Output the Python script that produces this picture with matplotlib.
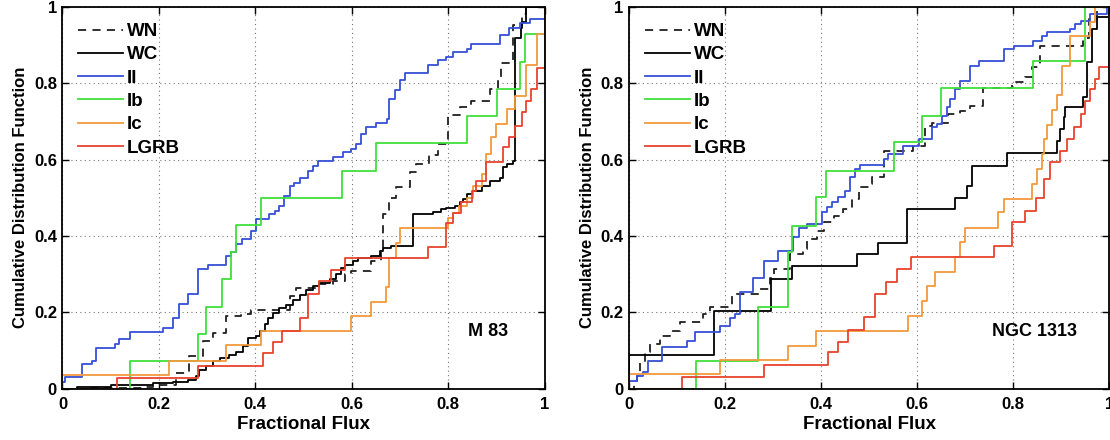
import numpy as np
import matplotlib
matplotlib.use("Agg")
import matplotlib.pyplot as plt

plt.rcParams['font.family'] = ['Liberation Sans', 'DejaVu Sans']
plt.rcParams['font.weight'] = 'bold'

labels = ["WN", "WC", "II", "Ib", "Ic", "LGRB"]
colors = ["#202020", "#000000", "#3550d8", "#3ee03a", "#f29a3a", "#e8432e"]
tick_values = [0, 0.2, 0.4, 0.6, 0.8, 1]
tick_labels = ["0", "0.2", "0.4", "0.6", "0.8", "1"]
panel_names = ["M 83", "NGC 1313"]
name_positions = [(0.883, 0.15), (0.844, 0.15)]

# ---- M 83: step positions (fractional flux) and cumulative levels ----
m83_wn_x = [0.060, 0.167, 0.187, 0.236, 0.263, 0.291, 0.312, 0.340, 0.371, 0.391, 0.471, 0.485,
            0.533, 0.561, 0.585, 0.599, 0.640, 0.661, 0.665, 0.678, 0.692, 0.720, 0.734, 0.761,
            0.779, 0.799, 0.824, 0.848, 0.886, 0.903, 0.910, 0.934, 0.952, 0.962]
m83_wn_y = [0.002, 0.004, 0.008, 0.040, 0.084, 0.124, 0.146, 0.189, 0.196, 0.207, 0.242, 0.264,
            0.273, 0.282, 0.299, 0.308, 0.334, 0.369, 0.457, 0.500, 0.527, 0.567, 0.589, 0.611,
            0.641, 0.716, 0.738, 0.755, 0.786, 0.808, 0.852, 0.953, 0.983, 1.000]

m83_wc_x = [0.030, 0.100, 0.187, 0.229, 0.260, 0.277, 0.284, 0.298, 0.312, 0.326, 0.346, 0.360,
            0.374, 0.384, 0.402, 0.409, 0.419, 0.426, 0.436, 0.450, 0.464, 0.478, 0.492, 0.506,
            0.519, 0.533, 0.554, 0.568, 0.578, 0.585, 0.602, 0.613, 0.640, 0.658, 0.665, 0.682,
            0.727, 0.768, 0.786, 0.796, 0.813, 0.824, 0.830, 0.838, 0.851, 0.869, 0.886, 0.907,
            0.914, 0.921, 0.934, 0.938, 0.950, 0.954, 0.962]
m83_wc_y = [0.004, 0.009, 0.014, 0.018, 0.023, 0.032, 0.049, 0.058, 0.071, 0.080, 0.089, 0.097,
            0.111, 0.132, 0.137, 0.150, 0.168, 0.185, 0.198, 0.211, 0.220, 0.233, 0.246, 0.258,
            0.268, 0.277, 0.286, 0.299, 0.315, 0.324, 0.334, 0.341, 0.347, 0.361, 0.369, 0.374,
            0.457, 0.464, 0.470, 0.474, 0.479, 0.488, 0.497, 0.510, 0.518, 0.532, 0.545, 0.553,
            0.580, 0.589, 0.597, 0.918, 0.944, 0.960, 1.000]

m83_ii_x = [0.000, 0.006, 0.041, 0.062, 0.070, 0.108, 0.118, 0.141, 0.208, 0.229, 0.241, 0.261,
            0.281, 0.301, 0.340, 0.350, 0.360, 0.372, 0.390, 0.402, 0.429, 0.440, 0.450, 0.460,
            0.471, 0.481, 0.492, 0.509, 0.519, 0.530, 0.561, 0.582, 0.599, 0.609, 0.620, 0.630,
            0.651, 0.672, 0.678, 0.689, 0.699, 0.710, 0.758, 0.779, 0.796, 0.810, 0.838, 0.848,
            0.907, 0.927, 0.948, 0.969, 1.000]
m83_ii_y = [0.018, 0.029, 0.063, 0.071, 0.106, 0.116, 0.129, 0.148, 0.159, 0.185, 0.221, 0.247,
            0.313, 0.324, 0.347, 0.359, 0.378, 0.391, 0.413, 0.444, 0.457, 0.466, 0.479, 0.505,
            0.530, 0.540, 0.553, 0.571, 0.584, 0.597, 0.606, 0.619, 0.628, 0.641, 0.668, 0.685,
            0.696, 0.707, 0.760, 0.782, 0.808, 0.826, 0.847, 0.861, 0.869, 0.882, 0.891, 0.904,
            0.926, 0.944, 0.957, 0.968, 1.000]

m83_ib_x = [0.140, 0.281, 0.298, 0.331, 0.350, 0.360, 0.411, 0.580, 0.651, 0.838, 0.901, 0.948,
            0.959, 1.000]
m83_ib_y = [0.071, 0.143, 0.214, 0.286, 0.357, 0.429, 0.500, 0.571, 0.643, 0.714, 0.786, 0.857,
            0.929, 1.000]

m83_ic_x = [0.000, 0.221, 0.340, 0.411, 0.599, 0.639, 0.670, 0.678, 0.691, 0.699, 0.799, 0.810,
            0.823, 0.838, 0.852, 0.869, 0.879, 0.889, 0.900, 0.921, 0.938, 0.962, 0.985, 1.000]
m83_ic_y = [0.036, 0.071, 0.113, 0.150, 0.189, 0.227, 0.266, 0.341, 0.382, 0.420, 0.448, 0.461,
            0.478, 0.500, 0.532, 0.562, 0.615, 0.659, 0.694, 0.733, 0.768, 0.847, 0.930, 1.000]

m83_lgrb_x = [0.113, 0.281, 0.416, 0.436, 0.456, 0.492, 0.509, 0.533, 0.557, 0.585, 0.758, 0.795,
              0.810, 0.827, 0.850, 0.858, 0.879, 0.914, 0.927, 0.938, 0.952, 0.962, 0.972, 0.985,
              1.000]
m83_lgrb_y = [0.027, 0.060, 0.093, 0.121, 0.152, 0.185, 0.247, 0.282, 0.310, 0.341, 0.371, 0.435,
              0.461, 0.488, 0.518, 0.545, 0.593, 0.632, 0.659, 0.689, 0.724, 0.755, 0.786, 0.840,
              1.000]

# ---- NGC 1313 ----
n1313_wn_x = [0.010, 0.016, 0.023, 0.033, 0.044, 0.065, 0.085, 0.106, 0.155, 0.169, 0.214, 0.273,
              0.294, 0.301, 0.335, 0.363, 0.370, 0.391, 0.405, 0.426, 0.446, 0.464, 0.478, 0.499,
              0.506, 0.530, 0.592, 0.617, 0.630, 0.665, 0.690, 0.710, 0.738, 0.797, 0.825, 0.839,
              0.856, 0.946, 0.957, 0.975]
n1313_wn_y = [0.020, 0.034, 0.069, 0.095, 0.117, 0.138, 0.152, 0.174, 0.195, 0.214, 0.248, 0.261,
              0.291, 0.313, 0.353, 0.366, 0.392, 0.414, 0.436, 0.451, 0.470, 0.497, 0.527, 0.536,
              0.555, 0.623, 0.635, 0.689, 0.697, 0.720, 0.728, 0.741, 0.787, 0.803, 0.816, 0.842,
              0.899, 0.920, 0.968, 1.000]

n1313_wc_x = [0.000, 0.176, 0.295, 0.339, 0.474, 0.519, 0.578, 0.679, 0.703, 0.714, 0.787, 0.891,
              0.898, 0.905, 0.908, 0.946, 0.954, 0.964, 0.974, 1.000]
n1313_wc_y = [0.089, 0.204, 0.287, 0.322, 0.353, 0.381, 0.470, 0.499, 0.532, 0.584, 0.617, 0.650,
              0.680, 0.711, 0.737, 0.763, 0.855, 0.942, 0.973, 1.000]

n1313_ii_x = [0.000, 0.016, 0.030, 0.040, 0.068, 0.120, 0.138, 0.190, 0.210, 0.221, 0.231, 0.259,
              0.280, 0.311, 0.342, 0.353, 0.370, 0.401, 0.412, 0.422, 0.436, 0.450, 0.460, 0.471,
              0.481, 0.530, 0.540, 0.571, 0.603, 0.631, 0.641, 0.651, 0.662, 0.669, 0.679, 0.690,
              0.710, 0.728, 0.780, 0.801, 0.842, 0.860, 0.870, 0.919, 0.929, 0.940, 0.960, 0.995]
n1313_ii_y = [0.021, 0.034, 0.044, 0.073, 0.108, 0.125, 0.147, 0.165, 0.184, 0.195, 0.252, 0.291,
              0.335, 0.361, 0.396, 0.420, 0.431, 0.462, 0.475, 0.488, 0.501, 0.519, 0.554, 0.575,
              0.587, 0.602, 0.615, 0.637, 0.654, 0.685, 0.693, 0.715, 0.737, 0.759, 0.785, 0.807,
              0.846, 0.859, 0.890, 0.899, 0.912, 0.925, 0.934, 0.942, 0.955, 0.964, 0.982, 1.000]

n1313_ib_x = [0.139, 0.269, 0.330, 0.339, 0.390, 0.410, 0.551, 0.610, 0.650, 0.841, 0.950]
n1313_ib_y = [0.073, 0.215, 0.357, 0.427, 0.501, 0.571, 0.645, 0.715, 0.787, 0.858, 1.000]

n1313_ic_x = [0.000, 0.190, 0.330, 0.390, 0.581, 0.610, 0.620, 0.638, 0.679, 0.690, 0.700, 0.769,
              0.780, 0.839, 0.849, 0.860, 0.865, 0.870, 0.881, 0.891, 0.901, 0.919, 0.960, 0.971]
n1313_ic_y = [0.038, 0.075, 0.112, 0.152, 0.191, 0.230, 0.268, 0.306, 0.344, 0.383, 0.422, 0.462,
              0.498, 0.537, 0.575, 0.615, 0.654, 0.692, 0.731, 0.769, 0.846, 0.923, 0.962, 1.000]

n1313_lgrb_x = [0.111, 0.280, 0.415, 0.436, 0.456, 0.490, 0.513, 0.535, 0.558, 0.587, 0.759, 0.797,
                0.825, 0.848, 0.863, 0.877, 0.898, 0.912, 0.926, 0.940, 0.950, 0.960, 0.971, 0.978,
                1.000]
n1313_lgrb_y = [0.029, 0.062, 0.095, 0.123, 0.154, 0.187, 0.248, 0.280, 0.313, 0.344, 0.374, 0.436,
                0.466, 0.499, 0.549, 0.593, 0.623, 0.654, 0.685, 0.720, 0.754, 0.785, 0.811, 0.842,
                1.000]

panels = [
    [(m83_wn_x, m83_wn_y), (m83_wc_x, m83_wc_y), (m83_ii_x, m83_ii_y),
     (m83_ib_x, m83_ib_y), (m83_ic_x, m83_ic_y), (m83_lgrb_x, m83_lgrb_y)],
    [(n1313_wn_x, n1313_wn_y), (n1313_wc_x, n1313_wc_y), (n1313_ii_x, n1313_ii_y),
     (n1313_ib_x, n1313_ib_y), (n1313_ic_x, n1313_ic_y), (n1313_lgrb_x, n1313_lgrb_y)],
]

fig = plt.figure(figsize=(11.1, 4.4), dpi=100)
ax_rects = [[0.0563, 0.117, 0.4344, 0.867], [0.5667, 0.117, 0.4327, 0.867]]

for rect, series, name, pos in zip(ax_rects, panels, panel_names, name_positions):
    ax = fig.add_axes(rect)
    for (x, y), lab, col in zip(series, labels, colors):
        xs = np.r_[0.0, x, 1.0]
        ys = np.r_[0.0, y, y[-1]]
        if lab == "WN":
            ax.step(xs, ys, where='post', color=col, lw=1.3, dashes=(4.5, 3.5), label=lab)
        else:
            ax.step(xs, ys, where='post', color=col, lw=1.3, label=lab)
    ax.set_xlim(0, 1)
    ax.set_ylim(0, 1)
    ax.set_xticks(tick_values)
    ax.set_xticklabels(tick_labels)
    ax.set_yticks(tick_values)
    ax.set_yticklabels(tick_labels)
    ax.tick_params(direction='in', length=5, width=1, top=True, right=True, labelsize=12)
    ax.tick_params(axis='x', pad=6)
    ax.tick_params(axis='y', pad=4)
    for lbl in ax.get_xticklabels() + ax.get_yticklabels():
        lbl.set_fontweight('bold')
    ax.grid(True, linestyle=(0, (1, 3)), color='#777777', linewidth=0.8)
    for sp in ax.spines.values():
        sp.set_linewidth(1.3)
    ax.set_xlabel("Fractional Flux", fontsize=13.5, fontweight='bold', labelpad=3)
    ax.set_ylabel("Cumulative Distribution Function", fontsize=12, fontweight='bold', labelpad=4)
    ax.text(pos[0], pos[1], name, fontsize=13, fontweight='bold', ha='center', va='center')
    ax.legend(loc='upper left', frameon=False, handlelength=2.4,
              handletextpad=0.2, labelspacing=0.33, borderaxespad=0.45,
              prop={'weight': 'bold', 'size': 13.5})

fig.savefig("out.png", dpi=100)
